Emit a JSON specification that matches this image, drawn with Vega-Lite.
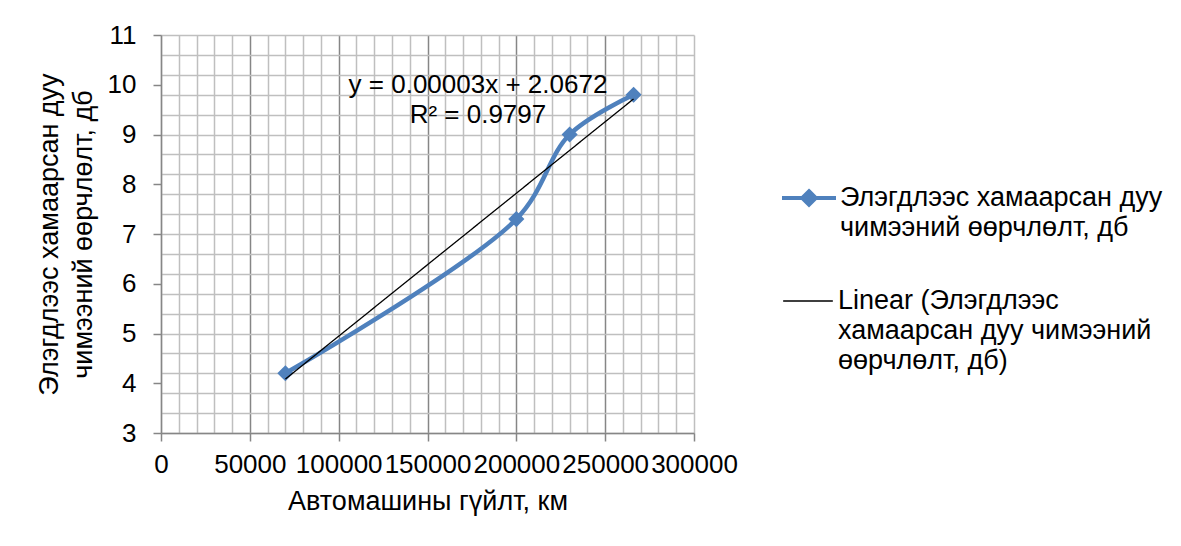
{
  "$schema": "https://vega.github.io/schema/vega-lite/v6.json",
  "width": 533,
  "height": 398,
  "autosize": {"type": "none"},
  "padding": {"left": 161, "top": 35, "right": 487, "bottom": 113},
  "background": "white",
  "config": {"font": "Liberation Sans", "view": {"stroke": null}, "style": {"guide-label": {"lineHeight": 30}}},
  "datasets": {
    "points": [
      {"km": 70000, "db": 4.2, "series": "Элэгдлээс хамаарсан дуу чимээний өөрчлөлт, дб"},
      {"km": 200000, "db": 7.3, "series": "Элэгдлээс хамаарсан дуу чимээний өөрчлөлт, дб"},
      {"km": 230000, "db": 9.0, "series": "Элэгдлээс хамаарсан дуу чимээний өөрчлөлт, дб"},
      {"km": 266000, "db": 9.8, "series": "Элэгдлээс хамаарсан дуу чимээний өөрчлөлт, дб"}
    ],
    "trendlabel": [
      {"km": 178400, "db": 9.834, "label": ["y = 0.00003x + 2.0672", "R² = 0.9797"]}
    ]
  },
  "data": {"name": "points"},
  "encoding": {
    "x": {
      "field": "km",
      "type": "quantitative",
      "scale": {"domain": [0, 300000], "nice": false, "zero": false},
      "axis": {
        "values": [0,10000,20000,30000,40000,50000,60000,70000,80000,90000,100000,110000,120000,130000,140000,150000,160000,170000,180000,190000,200000,210000,220000,230000,240000,250000,260000,270000,280000,290000,300000],
        "format": "d",
        "labelExpr": "datum.value % 50000 === 0 ? datum.label : ''",
        "labelFlush": false,
        "labelOverlap": false,
        "labelFontSize": 26,
        "labelColor": "black",
        "labelPadding": 10,
        "grid": true,
        "gridWidth": 1.5,
        "gridColor": {"condition": {"test": "datum.value % 50000 === 0 && datum.value > 0 && datum.value < 300000", "value": "#868686"}, "value": "#BFBFBF"},
        "tickSize": 8,
        "tickWidth": 1.5,
        "tickColor": "#868686",
        "tickOpacity": {"condition": {"test": "datum.value % 50000 === 0", "value": 1}, "value": 0},
        "domainColor": "#868686",
        "domainWidth": 1.5,
        "title": "Автомашины гүйлт, км",
        "titleFontSize": 27,
        "titleFontWeight": "normal",
        "titleColor": "black",
        "titlePadding": 11
      }
    },
    "y": {
      "field": "db",
      "type": "quantitative",
      "scale": {"domain": [3, 11], "nice": false, "zero": false},
      "axis": {
        "values": [3,3.4,3.8,4,4.2,4.6,5,5.4,5.8,6,6.2,6.6,7,7.4,7.8,8,8.2,8.6,9,9.4,9.8,10,10.2,10.6,11],
        "labelExpr": "abs(datum.value - round(datum.value)) < 0.01 ? '' + round(datum.value) : ''",
        "labelOverlap": false,
        "labelFontSize": 26,
        "labelColor": "black",
        "labelPadding": 17,
        "grid": true,
        "gridWidth": 1.5,
        "gridColor": "#BFBFBF",
        "gridOpacity": {"condition": {"test": "abs((datum.value - 3) / 0.4 - round((datum.value - 3) / 0.4)) < 0.01", "value": 1}, "value": 0},
        "tickSize": 8,
        "tickWidth": 1.5,
        "tickColor": "#868686",
        "tickOpacity": {"condition": {"test": "abs(datum.value - round(datum.value)) < 0.01", "value": 1}, "value": 0},
        "domainColor": "#868686",
        "domainWidth": 1.5,
        "title": ["Элэгдлээс хамаарсан дуу", "чимээний өөрчлөлт, дб"],
        "titleFontSize": 27,
        "titleFontWeight": "normal",
        "titleColor": "black",
        "titleLineHeight": 34,
        "titlePadding": 10
      }
    }
  },
  "layer": [
    {
      "mark": {"type": "line", "interpolate": "catmull-rom", "strokeWidth": 4.5},
      "encoding": {
        "color": {
          "field": "series",
          "type": "nominal",
          "scale": {
            "domain": ["Элэгдлээс хамаарсан дуу чимээний өөрчлөлт, дб"],
            "range": ["#4F81BD"]
          },
          "legend": {
            "orient": "none",
            "legendX": 619,
            "legendY": 134,
            "title": null,
            "padding": 0,
            "symbolType": "M-1,0H1M0,-0.25L0.25,0L0,0.25L-0.25,0Z",
            "symbolSize": 2916,
            "symbolFillColor": "#4F81BD",
            "symbolStrokeColor": "#4F81BD",
            "symbolStrokeWidth": 4,
            "symbolOpacity": 1,
            "labelFontSize": 27,
            "labelColor": "black",
            "labelLimit": 600,
            "labelOffset": 2,
            "labelExpr": "['Элэгдлээс хамаарсан дуу', 'чимээний өөрчлөлт, дб']"
          }
        }
      }
    },
    {
      "mark": {"type": "point", "shape": "diamond", "filled": true, "size": 260, "opacity": 1, "color": "#4F81BD"}
    },
    {
      "transform": [{"regression": "db", "on": "km"}],
      "mark": {"type": "line", "strokeWidth": 1.3, "color": "#000000"},
      "encoding": {
        "strokeDash": {
          "datum": "Linear (Элэгдлээс хамаарсан дуу чимээний өөрчлөлт, дб)",
          "type": "nominal",
          "scale": {"range": [[1, 0]]},
          "legend": {
            "orient": "none",
            "legendX": 619,
            "legendY": 238,
            "title": null,
            "padding": 0,
            "symbolType": "M-0.92,0H0.92",
            "symbolSize": 2916,
            "symbolStrokeColor": "#000000",
            "symbolStrokeWidth": 1.3,
            "symbolOpacity": 1,
            "labelFontSize": 27,
            "labelColor": "black",
            "labelLimit": 600,
            "labelOffset": 2,
            "labelExpr": "['Linear (Элэгдлээс', 'хамаарсан дуу чимээний', 'өөрчлөлт, дб)']"
          }
        }
      }
    },
    {
      "data": {"name": "trendlabel"},
      "mark": {"type": "text", "align": "center", "baseline": "alphabetic", "fontSize": 26, "lineHeight": 30, "color": "black"},
      "encoding": {
        "text": {"field": "label"}
      }
    }
  ]
}
